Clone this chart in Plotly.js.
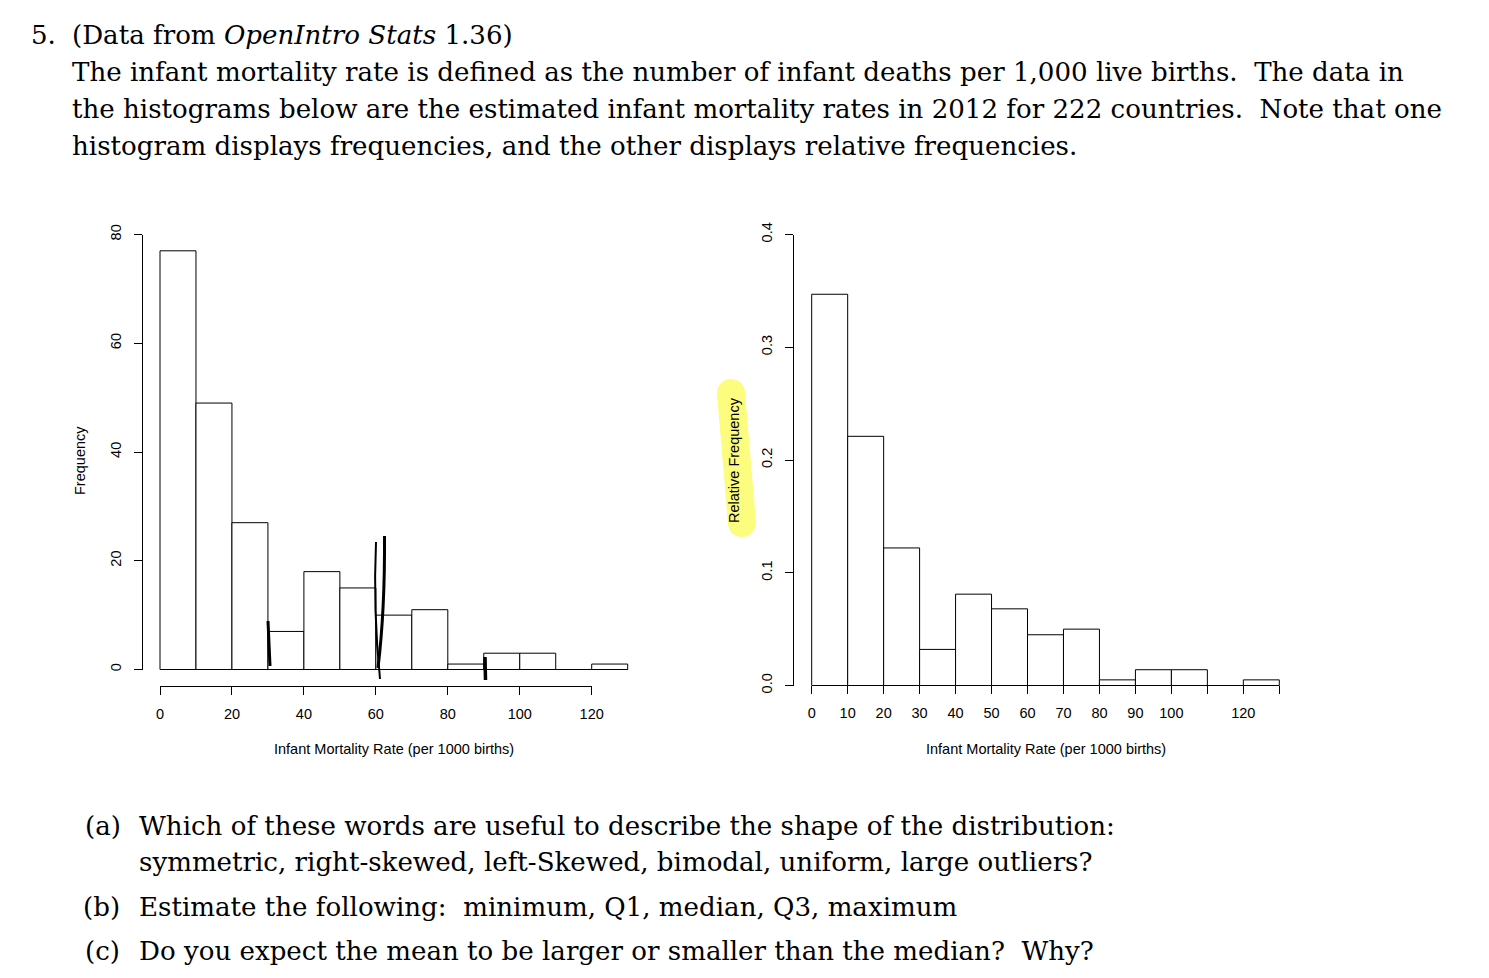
<!DOCTYPE html>
<html><head><meta charset="utf-8">
<script src="https://cdn.plot.ly/plotly-3.0.1.min.js"></script>
<style>html,body{margin:0;padding:0;background:#fff;overflow:hidden}#chart{width:1489px;height:978px}</style>
</head><body><div id="chart"></div>
<script>
// ---- data ----
const binStarts = [0,10,20,30,40,50,60,70,80,90,100,110,120];
const binWidth = 10;
const frequency = [77,49,27,7,18,15,10,11,1,3,3,0,1];
const relFrequency = [0.347,0.221,0.122,0.032,0.081,0.068,0.045,0.050,0.005,0.014,0.014,0,0.005];
const freqYTicks = [0,20,40,60,80];
const freqXTicks = [0,20,40,60,80,100,120];
const relYTicks = [0,0.1,0.2,0.3,0.4];
const relYTickText = ['0.0','0.1','0.2','0.3','0.4'];
const relXTicks = [0,10,20,30,40,50,60,70,80,90,100,110,120,130];
const relXTickText = ['0','10','20','30','40','50','60','70','80','90','100','','120',''];
const xTitle = 'Infant Mortality Rate (per 1000 births)';

const W = 1489, H = 978;
const px = v => v / W, py = v => 1 - v / H;
const P = (x, y) => px(x) + ',' + py(y);

const sans = 'Liberation Sans, Arial, sans-serif';
const serif = 'DejaVu Serif, serif';
const tickFont = {family: sans, size: 14.5, color: '#000'};

const barStyle = {color: '#ffffff', line: {color: '#000', width: 1}};

const traces = [
  {type: 'bar', x: binStarts, y: frequency, offset: 0, width: binWidth, xaxis: 'x2', yaxis: 'y2',
   marker: barStyle, showlegend: false, hoverinfo: 'skip'},
  {type: 'bar', x: binStarts, y: relFrequency, offset: 0, width: binWidth, xaxis: 'x4', yaxis: 'y4',
   marker: barStyle, showlegend: false, hoverinfo: 'skip'},
  // empty traces so that the visible axes get drawn
  {type: 'scatter', x: [], y: [], xaxis: 'x', yaxis: 'y', showlegend: false, hoverinfo: 'skip'},
  {type: 'scatter', x: [], y: [], xaxis: 'x3', yaxis: 'y3', showlegend: false, hoverinfo: 'skip'}
];

const visAxis = {showline: true, linecolor: '#000', linewidth: 1, ticks: 'outside', ticklen: 8,
  tickcolor: '#000', tickwidth: 1, showgrid: false, zeroline: false, tickfont: tickFont,
  ticklabelstandoff: 7, fixedrange: true, type: 'linear'};
const hidAxis = {visible: false, showgrid: false, zeroline: false, fixedrange: true, type: 'linear'};

// left chart scales
const Lx0 = 160, Lx120 = 591.7, Lux = (Lx120 - Lx0) / 120;
const Ly0 = 669.5, Ly80 = 234.5, Luy = (Ly0 - Ly80) / 80;
// right chart scales
const Rx0 = 811.7, Rx130 = 1279.3, Rux = (Rx130 - Rx0) / 130;
const Ry0 = 685.5, Ry4 = 234.5, Ruy = (Ry0 - Ry4) / 0.4;

const layout = {
  width: W, height: H, margin: {l: 0, r: 0, t: 0, b: 0},
  paper_bgcolor: '#fff', plot_bgcolor: 'rgba(0,0,0,0)', showlegend: false,
  bargap: 0,
  xaxis: Object.assign({}, visAxis, {domain: [px(Lx0), px(Lx120)], range: [0, 120], anchor: 'free',
    position: py(686), tickvals: freqXTicks}),
  yaxis: Object.assign({}, visAxis, {domain: [py(Ly0), py(Ly80)], range: [0, 80], anchor: 'free',
    position: px(142), tickvals: freqYTicks, tickangle: -90}),
  xaxis2: Object.assign({}, hidAxis, {domain: [px(Lx0 - Lux), px(Lx0 + 131 * Lux)], range: [-1, 131], anchor: 'y2'}),
  yaxis2: Object.assign({}, hidAxis, {domain: [py(Ly0 + Luy), py(Ly80)], range: [-1, 80], anchor: 'x2'}),
  xaxis3: Object.assign({}, visAxis, {domain: [px(Rx0), px(Rx130)], range: [0, 130], anchor: 'free',
    position: py(685), tickvals: relXTicks, ticktext: relXTickText}),
  yaxis3: Object.assign({}, visAxis, {domain: [py(Ry0), py(Ry4)], range: [0, 0.4], anchor: 'free',
    position: px(793), tickvals: relYTicks, ticktext: relYTickText, tickangle: -90}),
  xaxis4: Object.assign({}, hidAxis, {domain: [px(Rx0 - Rux), px(Rx130 + Rux)], range: [-1, 131], anchor: 'y4'}),
  yaxis4: Object.assign({}, hidAxis, {domain: [py(Ry0 + 0.004 * Ruy), py(Ry4)], range: [-0.004, 0.4], anchor: 'x4'}),
  shapes: [
    {type: 'line', xref: 'x2', yref: 'y2', x0: binStarts[0], x1: binStarts[binStarts.length - 1] + binWidth,
     y0: 0, y1: 0, line: {color: '#000', width: 1}},
    {type: 'line', xref: 'paper', yref: 'paper', layer: 'below', x0: px(731), y0: py(393), x1: px(742), y1: py(523),
     line: {color: '#fcfc7e', width: 28}},
    {type: 'circle', xref: 'paper', yref: 'paper', layer: 'below', x0: px(731 - 14), x1: px(731 + 14),
     y0: py(393 + 14), y1: py(393 - 14), fillcolor: '#fcfc7e', line: {width: 0}},
    {type: 'circle', xref: 'paper', yref: 'paper', layer: 'below', x0: px(742 - 14), x1: px(742 + 14),
     y0: py(523 + 14), y1: py(523 - 14), fillcolor: '#fcfc7e', line: {width: 0}},
    {type: 'path', xref: 'paper', yref: 'paper', path: 'M' + P(268, 621) + ' L' + P(270, 666), line: {color: '#000', width: 3}},
    {type: 'path', xref: 'paper', yref: 'paper', path: 'M' + P(376, 542) + ' Q' + P(373, 610) + ' ' + P(380, 679), line: {color: '#000', width: 2}},
    {type: 'path', xref: 'paper', yref: 'paper', path: 'M' + P(384.5, 536) + ' Q' + P(385, 610) + ' ' + P(378, 668), line: {color: '#000', width: 3}},
    {type: 'path', xref: 'paper', yref: 'paper', path: 'M' + P(485, 657) + ' L' + P(485.5, 680), line: {color: '#000', width: 3.5}}
  ],
  annotations: []
};

function txt(text, x, y, opts) {
  layout.annotations.push(Object.assign({text: text, xref: 'paper', yref: 'paper', x: px(x), y: py(y),
    showarrow: false, xanchor: 'left', yanchor: 'middle', font: {family: serif, size: 26.1, color: '#000'}}, opts || {}));
}
const titleFont = {family: sans, size: 14.5, color: '#000'};
txt('Frequency', 80, 461, {xanchor: 'center', textangle: -90, font: titleFont});
txt(xTitle, (Lx0 + Lx0 + 130 * Lux) / 2, 749, {xanchor: 'center', font: titleFont});
txt('Relative Frequency', 734, 460, {xanchor: 'center', textangle: -90, font: titleFont});
txt(xTitle, (Rx0 + Rx130) / 2, 749, {xanchor: 'center', font: titleFont});

txt('5.', 29, 35);
txt('(Data from <i>OpenIntro Stats</i> 1.36)', 70, 35);
txt('The infant mortality rate is defined as the number of infant deaths per 1,000 live births.  The data in', 70, 72);
txt('the histograms below are the estimated infant mortality rates in 2012 for 222 countries.  Note that one', 70, 109);
txt('histogram displays frequencies, and the other displays relative frequencies.', 70, 146);
txt('(a)', 83, 826);
txt('Which of these words are useful to describe the shape of the distribution:', 137, 826);
txt('symmetric, right-skewed, left-Skewed, bimodal, uniform, large outliers?', 137, 862);
txt('(b)', 81, 907);
txt('Estimate the following:  minimum, Q1, median, Q3, maximum', 137, 907);
txt('(c)', 83, 951);
txt('Do you expect the mean to be larger or smaller than the median?  Why?', 137, 951);

Plotly.newPlot('chart', traces, layout, {staticPlot: true, displayModeBar: false});
</script></body></html>
